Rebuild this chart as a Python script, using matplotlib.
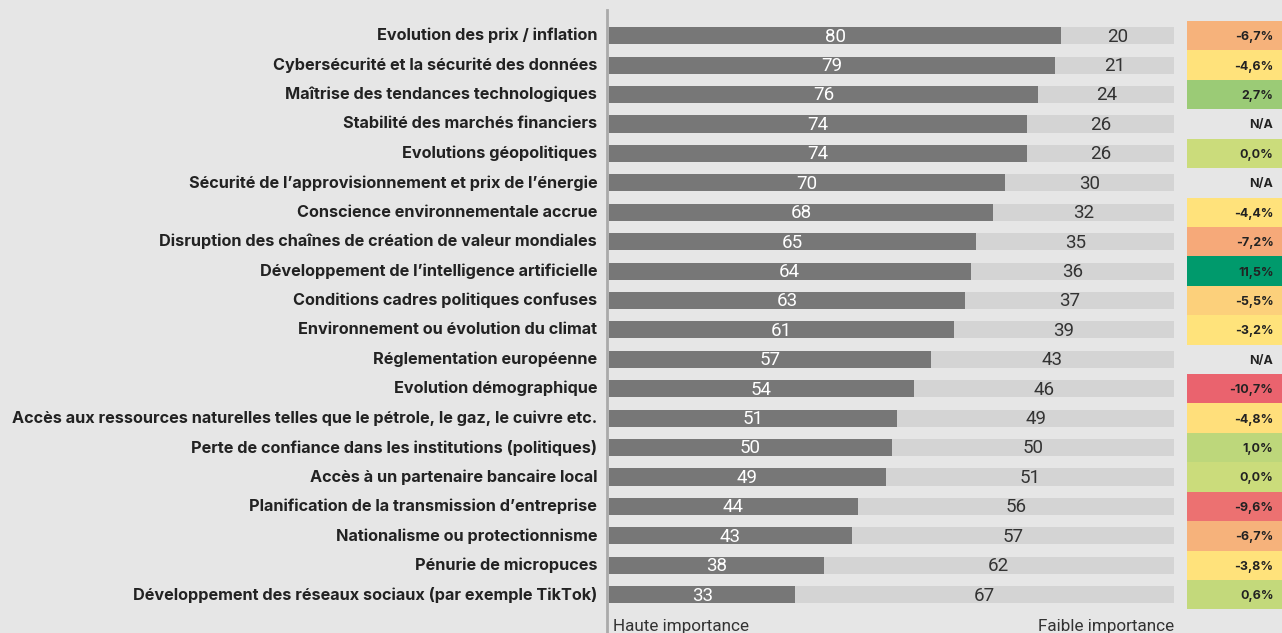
import numpy as np
import matplotlib.pyplot as plt
from matplotlib.lines import Line2D

plt.rcParams['font.family'] = ['Inter', 'DejaVu Sans']

# labels, shares (high / low importance) and change vs previous survey
categories = [
    "Evolution des prix / inflation",
    "Cybersécurité et la sécurité des données",
    "Maîtrise des tendances technologiques",
    "Stabilité des marchés financiers",
    "Evolutions géopolitiques",
    "Sécurité de l’approvisionnement et prix de l’énergie",
    "Conscience environnementale accrue",
    "Disruption des chaînes de création de valeur mondiales",
    "Développement de l’intelligence artificielle",
    "Conditions cadres politiques confuses",
    "Environnement ou évolution du climat",
    "Réglementation européenne",
    "Evolution démographique",
    "Accès aux ressources naturelles telles que le pétrole, le gaz, le cuivre etc.",
    "Perte de confiance dans les institutions (politiques)",
    "Accès à un partenaire bancaire local",
    "Planification de la transmission d’entreprise",
    "Nationalisme ou protectionnisme",
    "Pénurie de micropuces",
    "Développement des réseaux sociaux (par exemple TikTok)",
]
high = [80, 79, 76, 74, 74, 70, 68, 65, 64, 63, 61, 57, 54, 51, 50, 49, 44, 43, 38, 33]
low = [20, 21, 24, 26, 26, 30, 32, 35, 36, 37, 39, 43, 46, 49, 50, 51, 56, 57, 62, 67]
change = ["-6,7%", "-4,6%", "2,7%", "N/A", "0,0%", "N/A", "-4,4%", "-7,2%", "11,5%", "-5,5%",
          "-3,2%", "N/A", "-10,7%", "-4,8%", "1,0%", "0,0%", "-9,6%", "-6,7%", "-3,8%", "0,6%"]
change_colors = ["#f6b27b", "#ffe27b", "#9bcb76", None, "#cbdc7b", None, "#ffe27b", "#f6a979",
                 "#009a6c", "#fcd07b", "#ffe37b", None, "#ea636e", "#ffdf7b", "#bdd77b", "#cbdc7b",
                 "#ec7171", "#f6b27b", "#ffe27b", "#c3d97b"]

bg = "#e6e6e6"
dark = "#777777"
light = "#d4d4d4"

fig = plt.figure(figsize=(12.82, 6.33), dpi=100, facecolor=bg)
W, H = 1282, 633
top_px, row_px = 21.0, 29.42
n = len(categories)
ax_bottom = 1 - (top_px + n * row_px) / H
ax_h = n * row_px / H

ax = fig.add_axes([609 / W, ax_bottom, 565 / W, ax_h])
ax.set_facecolor(bg)
y = np.arange(n)
ax.barh(y, high, height=0.58, color=dark)
ax.barh(y, low, left=high, height=0.58, color=light)
for i in range(n):
    ax.text(high[i] / 2, y[i] + 0.03, str(high[i]), ha='center', va='center',
            color='white', fontsize=13.5, family='Roboto')
    ax.text(high[i] + low[i] / 2, y[i] + 0.03, str(low[i]), ha='center', va='center',
            color='#333333', fontsize=13.5, family='Roboto')
    ax.text(-2.1, y[i], categories[i], ha='right', va='center',
            color='#222222', fontsize=11.7, fontweight='bold')
ax.set_xlim(0, 100)
ax.set_ylim(n - 0.5, -0.5)
ax.axis('off')

# change column
ax2 = fig.add_axes([1187 / W, ax_bottom, 95 / W, ax_h])
ax2.set_facecolor(bg)
for i in range(n):
    if change_colors[i] is not None:
        ax2.barh(i, 1, height=1.0, color=change_colors[i])
    ax2.text(0.91, i + 0.05, change[i], ha='right', va='center',
             color='#222222', fontsize=9, fontweight='bold')
ax2.set_xlim(0, 1)
ax2.set_ylim(n - 0.5, -0.5)
ax2.axis('off')

# vertical axis line
fig.add_artist(Line2D([607 / W, 607 / W], [0, 1 - 10 / H], color='#aaaaaa', lw=2))

fig.text(613 / W, 1 - 626 / H, "Haute importance", ha='left', va='center',
         color='#333333', fontsize=12.3, family='Roboto')
fig.text(1174 / W, 1 - 626 / H, "Faible importance", ha='right', va='center',
         color='#333333', fontsize=12.3, family='Roboto')

fig.savefig("out.png", dpi=100, facecolor=bg)
